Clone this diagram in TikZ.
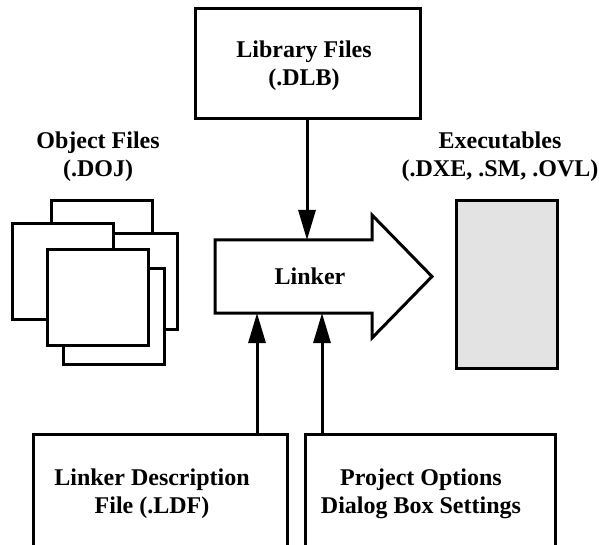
\documentclass[tikz,border=0pt]{standalone}
\usepackage{fontspec}
\setmainfont{Liberation Serif}
\usetikzlibrary{arrows.meta}
\definecolor{exefill}{RGB}{227,227,227}
\begin{document}
\begin{tikzpicture}[x=1pt,y=-1pt,
  thick line/.style={line width=3pt},
  filebox/.style={draw,line width=3pt,fill=white,minimum width=101pt,minimum height=96pt,inner sep=0pt,anchor=north west},
  bigbox/.style={draw,line width=3pt,fill=white,inner sep=0pt},
  lbl/.style={font=\bfseries\fontsize{24}{28}\selectfont,align=center,inner sep=0pt},
  conn/.style={line width=3pt,-{Triangle[length=30pt,width=17pt]}}]
\useasboundingbox (0,0) rectangle (599,545);
\clip (0,0) rectangle (599,545);

% Library files
\node[bigbox,minimum width=225pt,minimum height=110pt] (lib) at (307.5,64) {};
\node[lbl] (libt) at (304,66) {Library Files\\(.DLB)};

% Object files stack
\node[filebox] (o1) at (50,199) {};
\node[filebox] (o3) at (75,232) {};
\node[filebox] (o5) at (62,267) {};
\node[filebox] (o2) at (11,222) {};
\node[filebox] (o4) at (46,248) {};
\node[lbl] (objt) at (98,157) {Object Files\\(.DOJ)};

% Executables
\node[draw,line width=3pt,fill=exefill,minimum width=101pt,minimum height=168pt,inner sep=0pt,anchor=north west] (exe) at (455,199) {};
\node[lbl] (exet) at (500,157) {Executables\\(.DXE, .SM, .OVL)};

% Linker block arrow
\draw[line width=3pt,line join=miter,fill=white]
  (215,240) -- (372,240) -- (372,215) -- (432,276.5) -- (372,338) -- (372,313) -- (215,313) -- cycle;
\node[lbl] (lnk) at (310,276) {Linker};
\coordinate (lnkTop) at (307,240);
\coordinate (lnkB1) at (257,313);
\coordinate (lnkB2) at (322,313);

% Bottom boxes
\node[bigbox,minimum width=254pt,minimum height=120pt] (ldf) at (160,494) {};
\node[lbl] (ldft) at (152,494) {Linker Description\\File (.LDF)};
\node[bigbox,minimum width=250pt,minimum height=120pt] (pos) at (430,494) {};
\node[lbl] (post) at (421,494) {Project Options\\Dialog Box Settings};

% Connectors
\draw[conn] (lib.south -| lnkTop) -- (lnkTop);
\draw[conn] (ldf.north -| lnkB1) -- (lnkB1);
\draw[conn] (pos.north -| lnkB2) -- (lnkB2);
\end{tikzpicture}
\end{document}
